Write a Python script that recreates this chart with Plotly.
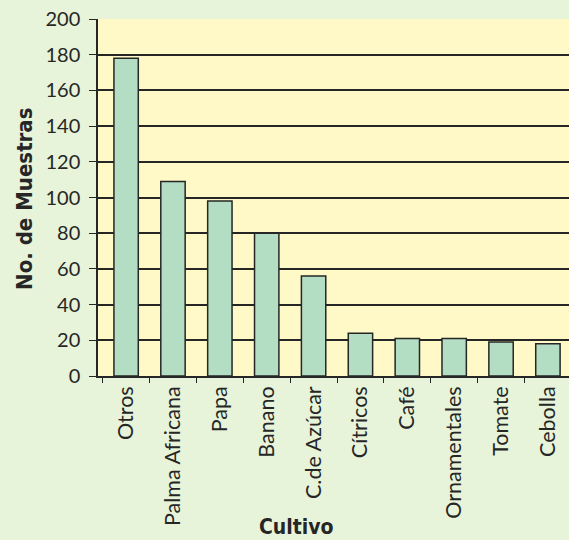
import plotly.graph_objects as go

# Samples per crop
cultivos = ["Otros", "Palma Africana", "Papa", "Banano", "C.de Azúcar",
            "Cítricos", "Café", "Ornamentales", "Tomate", "Cebolla"]
muestras = [178, 109, 98, 80, 56, 24, 21, 21, 19, 18]
y_ticks = [0, 20, 40, 60, 80, 100, 120, 140, 160, 180, 200]

label_font = "Lato, 'Open Sans', sans-serif"
title_font = "'Liberation Sans Narrow', 'DejaVu Sans Condensed', sans-serif"
ink = "#262626"

fig = go.Figure(
    go.Bar(
        x=cultivos,
        y=muestras,
        marker=dict(color="#B3DEC3", line=dict(color=ink, width=1.5)),
    )
)

fig.update_layout(
    width=569,
    height=540,
    margin=dict(l=98, r=0, t=19, b=164),
    paper_bgcolor="#E7F4DA",
    plot_bgcolor="#FFF9C7",
    bargap=0.48,
    showlegend=False,
    annotations=[
        dict(text="<b>Cultivo</b>", xref="paper", yref="paper",
             x=0.4225, y=-0.424, xanchor="center", yanchor="middle",
             showarrow=False,
             font=dict(family=title_font, size=21, color=ink)),
        dict(text="<b>No. de Muestras</b>", xref="paper", yref="paper",
             x=-0.155, y=0.496, xanchor="center", yanchor="middle",
             textangle=-90, showarrow=False,
             font=dict(family=title_font, size=22, color=ink)),
    ],
)

fig.update_xaxes(
    type="category",
    range=[-0.6, 9.45],
    tickson="boundaries",
    ticks="outside",
    ticklen=5,
    tickwidth=1.2,
    tickcolor=ink,
    tickangle=-90,
    tickfont=dict(family=label_font, size=21.5, color=ink),
    showline=True,
    linecolor=ink,
    linewidth=1.5,
    showgrid=False,
)

fig.update_yaxes(
    range=[0, 200],
    tickvals=y_ticks,
    ticks="outside",
    ticklen=7,
    tickwidth=1.2,
    tickcolor=ink,
    ticklabelstandoff=5,
    tickfont=dict(family=label_font, size=20, color=ink),
    showline=True,
    linecolor=ink,
    linewidth=1.5,
    showgrid=True,
    gridcolor=ink,
    gridwidth=1.7,
    zeroline=False,
)

fig.write_html("out.html")
